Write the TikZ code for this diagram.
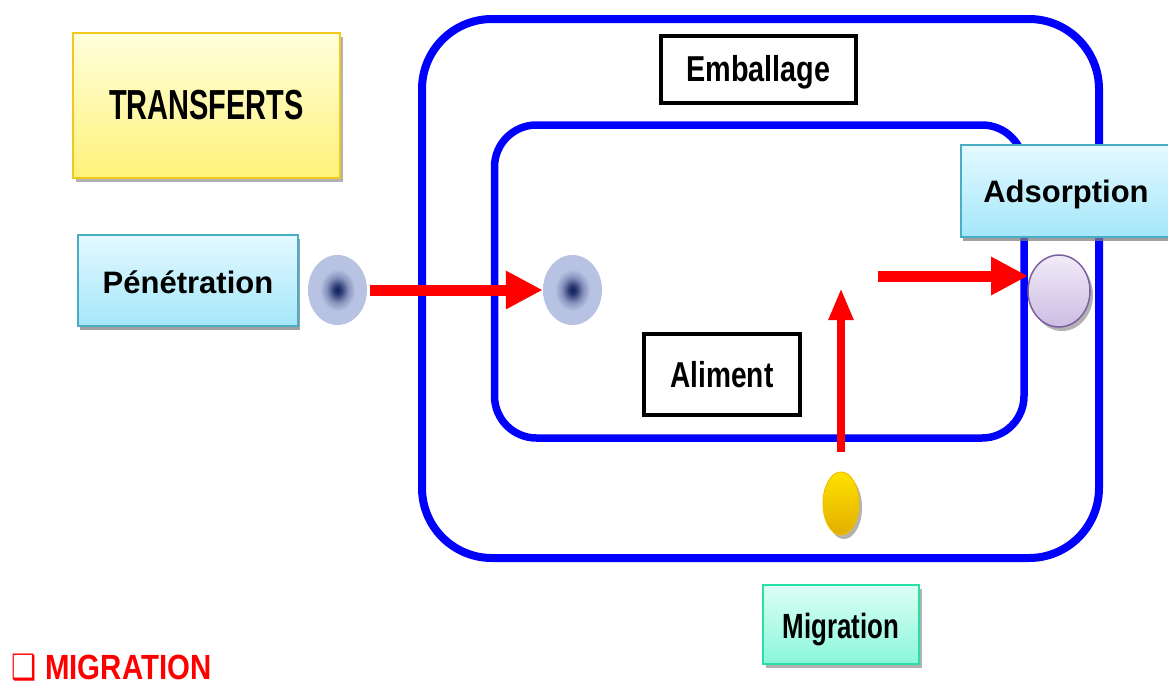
\documentclass[tikz,border=0pt]{standalone}
\usepackage{fontspec}
\setmainfont{Liberation Sans}
\newfontfamily\dejavu{DejaVu Sans}
\usetikzlibrary{shapes.geometric,arrows.meta,shadows}
\definecolor{frameblue}{HTML}{0000FF}
\definecolor{arrowred}{HTML}{FF0000}
\definecolor{yelT}{HTML}{FFFFDC}
\definecolor{yelB}{HTML}{FFF27A}
\definecolor{yelD}{HTML}{F2C81E}
\definecolor{cyaT}{HTML}{E4F9FF}
\definecolor{cyaB}{HTML}{A4E7FA}
\definecolor{cyaD}{HTML}{4BACC6}
\definecolor{minT}{HTML}{DCFFF4}
\definecolor{minB}{HTML}{8AF7DA}
\definecolor{minD}{HTML}{26E0A6}
\definecolor{purT}{HTML}{F1EBF8}
\definecolor{purB}{HTML}{CCBDE3}
\definecolor{purD}{HTML}{7D60A0}
\definecolor{goldT}{HTML}{FFE200}
\definecolor{goldB}{HTML}{E2AE00}
\definecolor{goldD}{HTML}{F2C000}
\definecolor{blobdark}{HTML}{0E1D5C}
\definecolor{bloblight}{HTML}{B8C3E3}
\pgfdeclareradialshading{blobshade}{\pgfpoint{0bp}{0bp}}{color(0bp)=(blobdark); color(3.5bp)=(blobdark!80!bloblight); color(9bp)=(blobdark!30!bloblight); color(15bp)=(bloblight); color(50bp)=(bloblight)}
\newcommand{\lowered}[2]{\raisebox{-#1}[\height][\depth]{#2}}
\begin{document}
\begin{tikzpicture}[x=1pt,y=-1pt,
  lbl/.style={font=\fontsize{31}{31}\selectfont\bfseries, text=black},
  narrowlbl/.style={font=\fontsize{36}{36}\selectfont\bfseries, text=black},
  softshadow/.style={drop shadow={shadow xshift=3pt,shadow yshift=-4pt,fill=black,opacity=0.3}},
  cyanbox/.style={rectangle, draw=cyaD, line width=2pt, top color=cyaT, bottom color=cyaB,
     drop shadow={shadow xshift=1.5pt,shadow yshift=-4pt,fill=gray,opacity=0.75}, inner sep=0pt, lbl},
  whitebox/.style={rectangle, draw=black, line width=4pt, fill=white, inner sep=0pt, narrowlbl},
  frame/.style={rectangle, draw=frameblue, line width=8pt, inner sep=0pt},
  blob/.style={ellipse, inner sep=0pt, minimum width=59pt, minimum height=70pt, shading=blobshade},
  redarrow/.style={draw=arrowred, line width=11pt, -{Triangle[length=37pt,width=36pt]}},
  redarrowthin/.style={draw=arrowred, line width=8pt, -{Triangle[length=32pt,width=23pt]}}
]
\useasboundingbox (0,0) rectangle (1168,686);

% frames
\node[frame, rounded corners=70pt, minimum width=677pt, minimum height=539pt] (outer) at (760.5,288.5) {};
\node[frame, line width=7.5pt, rounded corners=42pt, minimum width=529.5pt, minimum height=313pt] (inner) at (759.25,281.5) {};

% TRANSFERTS
\node[rectangle, draw=yelD, line width=2pt, top color=yelT, bottom color=yelB, softshadow,
      minimum width=267pt, minimum height=145pt, inner sep=0pt,
      font=\fontsize{42}{42}\selectfont\bfseries] (transferts) at (206.5,105.5) {\scalebox{0.69}[1]{TRANSFERTS}};

% Penetration
\node[cyanbox, minimum width=220pt, minimum height=91pt] (penetration) at (188,280.5) {\lowered{2pt}{Pénétration}};
\node[blob] (blobA) at (337.5,290) {};
\node[blob] (blobB) at (572.5,290) {};

% Emballage / Aliment
\node[whitebox, minimum width=195pt, minimum height=67pt] (emballage) at (758.5,69.5) {\lowered{3pt}{\scalebox{0.8}[1]{Emballage}}};
\node[whitebox, minimum width=156pt, minimum height=81pt] (aliment) at (722,374.5) {\scalebox{0.78}[1]{Aliment}};

% Adsorption
\node[cyanbox, minimum width=210pt, minimum height=92pt] (adsorption) at (1066,191) {\lowered{3pt}{Adsorption}};
\node[ellipse, draw=purD, line width=1.5pt, top color=purT, bottom color=purB, softshadow,
      minimum width=62pt, minimum height=72pt, inner sep=0pt] (adsorbed) at (1059,291) {};

% Migration
\node[ellipse, draw=goldD, line width=1pt, top color=goldT, bottom color=goldB, softshadow,
      minimum width=36pt, minimum height=63pt, inner sep=0pt] (migrant) at (841,503.5) {};
\node[rectangle, draw=minD, line width=2pt, top color=minT, bottom color=minB, softshadow,
      minimum width=156pt, minimum height=79pt, inner sep=0pt,
      font=\fontsize{35}{35}\selectfont\bfseries] (migration) at (841,624.5) {\lowered{5pt}{\scalebox{0.74}[1]{Migration}}};

\node[anchor=base west, inner sep=0pt, text=arrowred, font=\fontsize{35}{35}\selectfont\bfseries] (title) at (11,679)
  {{\dejavu\mdseries\scalebox{0.8}[1]{❑}}\hspace{9pt}\scalebox{0.84}[1]{MIGRATION}};

% arrows
\draw[redarrow] ([xshift=3pt]blobA.east) -- (blobB.west);
\coordinate (a2s) at (878,276);
\coordinate (a2e) at (1028,276);
\draw[redarrow] (a2s) -- (a2e);
\coordinate (a3s) at (841,452);
\coordinate (a3e) at (841,288);
\draw[redarrowthin] (a3s) -- (a3e);
\end{tikzpicture}
\end{document}
